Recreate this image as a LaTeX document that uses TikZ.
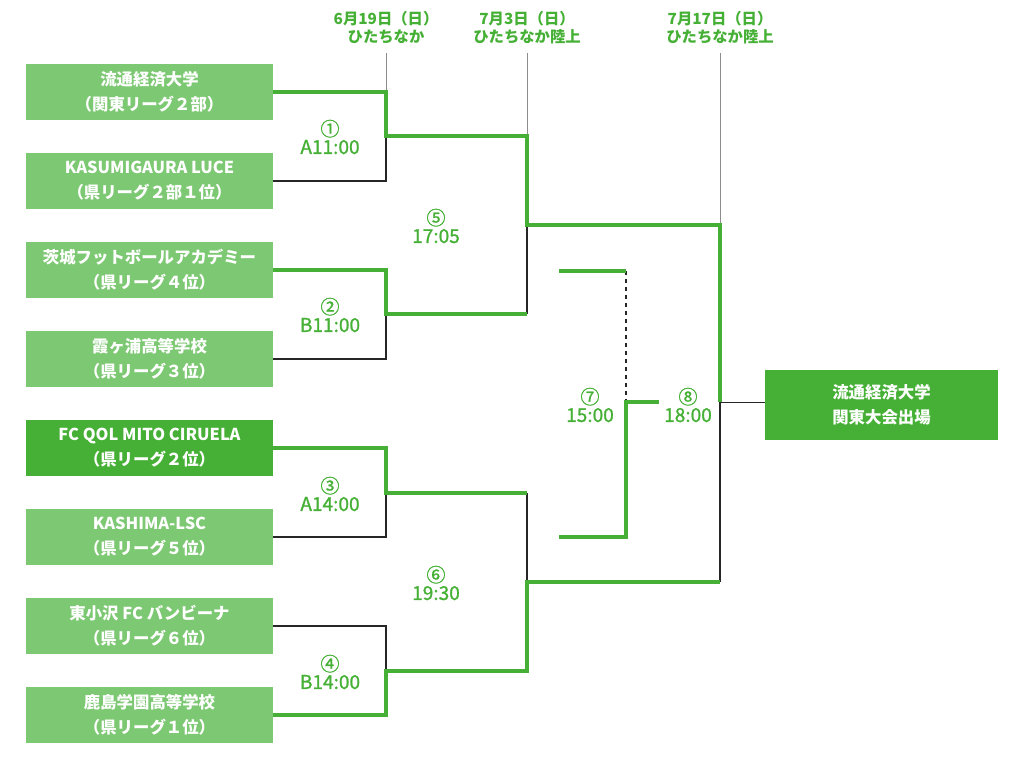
\documentclass[tikz,border=0pt]{standalone}
\usepackage{fontspec}
\setmainfont{Noto Sans CJK JP}
\newfontfamily\medfont{Noto Sans CJK JP}[FakeBold=1.2]
\usetikzlibrary{calc}
\definecolor{lgreen}{HTML}{7DC873}
\definecolor{dgreen}{HTML}{45B035}
\tikzset{
  team/.style={fill=lgreen,text=white,inner sep=0pt,align=center,
    minimum width=185.25pt,minimum height=42pt,
    font=\bfseries\fontsize{12.3}{18.75}\selectfont},
  win/.style={draw=dgreen,line width=3pt},
  lose/.style={draw=black!85,line width=1pt},
  guide/.style={draw=black!45,line width=0.6pt},
  datelbl/.style={text=dgreen,align=center,inner sep=0pt,
    font=\bfseries\fontsize{11.5}{13.5}\selectfont},
  timelbl/.style={text=dgreen,align=center,inner sep=0pt,
    font=\medfont\fontsize{14.3}{13.5}\selectfont}
}
\begin{document}
\begin{tikzpicture}[x=0.75pt,y=-0.75pt]
  \useasboundingbox (0,0) rectangle (1024,762);
  %TEAMS
  \node[team] (t1) at (149.5,92) {流通経済大学\\（関東リーグ２部）};
  \node[team] (t2) at (149.5,181) {KASUMIGAURA LUCE\\（県リーグ２部１位）};
  \node[team] (t3) at (149.5,270) {茨城フットボールアカデミー\\（県リーグ４位）};
  \node[team] (t4) at (149.5,359) {霞ヶ浦高等学校\\（県リーグ３位）};
  \node[team,fill=dgreen] (t5) at (149.5,448) {FC QOL MITO CIRUELA\\（県リーグ２位）};
  \node[team] (t6) at (149.5,537) {KASHIMA-LSC\\（県リーグ５位）};
  \node[team] (t7) at (149.5,626) {東小沢 FC バンビーナ\\（県リーグ６位）};
  \node[team] (t8) at (149.5,715) {鹿島学園高等学校\\（県リーグ１位）};
  \node[team,fill=dgreen,minimum width=174.75pt,minimum height=52.5pt] (champ) at (881.5,405) {流通経済大学\\関東大会出場};
  %DATES
  \node[datelbl] (d1) at (386,28) {6月19日（日）\\ひたちなか};
  \node[datelbl] (d2) at (527,28) {7月3日（日）\\ひたちなか陸上};
  \node[datelbl] (d3) at (720,28) {7月17日（日）\\ひたちなか陸上};
  %JOINTS
  \coordinate (j1) at (386,136.5);
  \coordinate (j2) at (386,314.5);
  \coordinate (j3) at (386,492.5);
  \coordinate (j4) at (386,670.5);
  \coordinate (j5) at (527,225.5);
  \coordinate (j6) at (527,581.5);
  \coordinate (j7) at (626,402.5);
  \coordinate (j8) at (720,402.5);
  \coordinate (s1) at (559,271);
  \coordinate (s2) at (559,537);
  \coordinate (o7) at (659,402.5);
  %GUIDES
  \draw[guide] (d1.south) ++(0,8) -- (d1.south |- t1.east);
  \draw[guide] (d2.south) ++(0,8) -- (d2.south |- j1);
  \draw[guide] (d3.south) ++(0,8) -- (d3.south |- j5);
  %LOSERS
  \draw[lose] (t2.east) -| (j1);
  \draw[lose] (t4.east) -| (j2);
  \draw[lose] (t6.east) -| (j3);
  \draw[lose] (t7.east) -| (j4);
  \draw[lose] (j5) -- (j2 -| j5);
  \draw[lose] (j3 -| j6) -- (j6);
  \draw[lose] (j6 -| j8) -- (j8) -- (j8 -| champ.west);
  \draw[lose,dashed] (s1 -| j7) -- (j7);
  %WINNERS
  \draw[win] (t1.east) -| (j1) -| (j5) -| (j8);
  \draw[win] (t3.east) -| (j2) -- (j2 -| j5);
  \draw[win] (t5.east) -| (j3) -- (j3 -| j6);
  \draw[win] (t8.east) -| (j4) -| (j6) -- (j6 -| j8);
  \draw[win] (s1) -- (s1 -| j7);
  \draw[win] (s2) -| (j7) -- (o7);
  %TIMES
  \node[timelbl] (m1) at (330,137) {①\\A11:00};
  \node[timelbl] (m2) at (330,315) {②\\B11:00};
  \node[timelbl] (m3) at (330,494) {③\\A14:00};
  \node[timelbl] (m4) at (330,672) {④\\B14:00};
  \node[timelbl] (m5) at (436,226) {⑤\\17:05};
  \node[timelbl] (m6) at (436,583) {⑥\\19:30};
  \node[timelbl] (m7) at (590,405) {⑦\\15:00};
  \node[timelbl] (m8) at (688,405) {⑧\\18:00};
\end{tikzpicture}
\end{document}
